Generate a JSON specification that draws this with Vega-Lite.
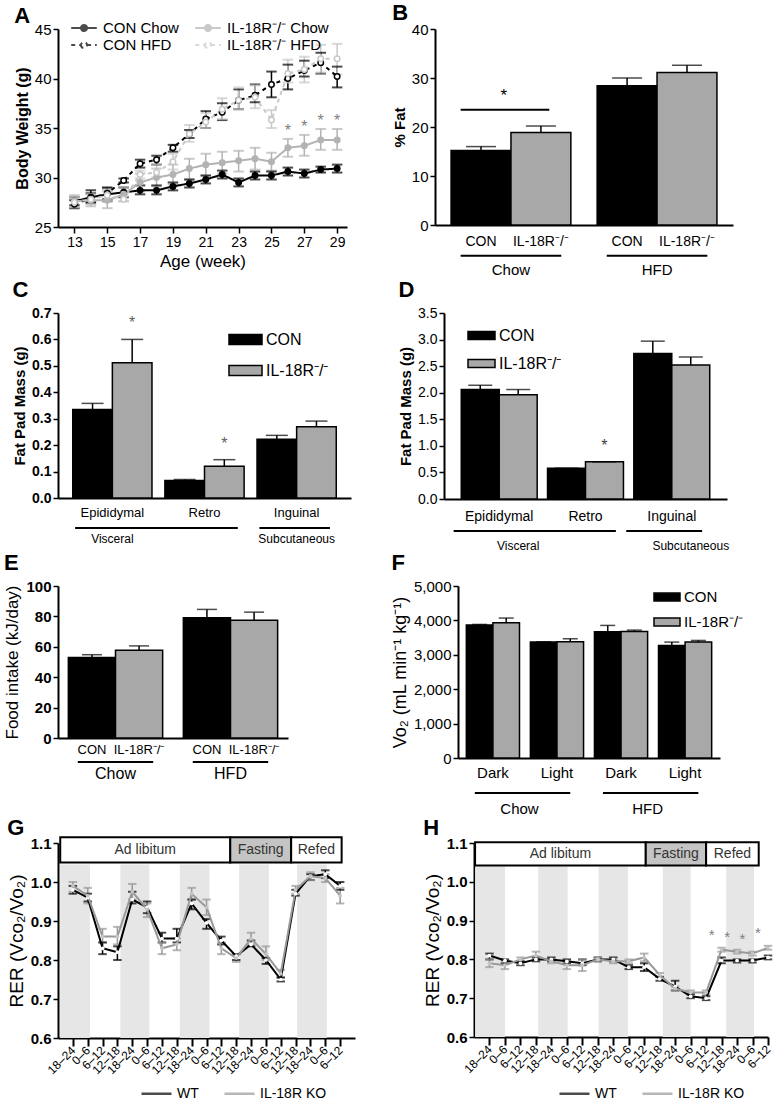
{
 "$schema": "https://vega.github.io/schema/vega-lite/v6.json",
 "padding": {"left": 3, "top": 2, "right": 2, "bottom": 2},
 "background": "white",
 "config": {
  "font": "Liberation Sans",
  "view": {"stroke": null},
  "axis": {"domainColor": "black", "domainWidth": 2, "tickColor": "black", "tickWidth": 1.5, "tickSize": 5, "labelColor": "black", "labelFontSize": 14, "titleColor": "black", "grid": false, "titlePadding": 4, "labelOverlap": false},
  "legend": {"labelColor": "black", "titleColor": "black"},
  "title": {"fontSize": 22, "fontWeight": "bold", "anchor": "start", "color": "black", "offset": 0},
  "text": {"color": "black"}
 },
 "datasets": {
  "bw": [
   {"week":13,"series":"CON Chow","bw":27.6,"lo":27.2,"hi":28.0},
   {"week":14,"series":"CON Chow","bw":28.0,"lo":27.5,"hi":28.7},
   {"week":15,"series":"CON Chow","bw":28.3,"lo":27.6,"hi":29.0},
   {"week":16,"series":"CON Chow","bw":28.5,"lo":28.0,"hi":29.0},
   {"week":17,"series":"CON Chow","bw":28.7,"lo":28.3,"hi":29.2},
   {"week":18,"series":"CON Chow","bw":28.7,"lo":28.3,"hi":29.2},
   {"week":19,"series":"CON Chow","bw":29.1,"lo":28.7,"hi":29.5},
   {"week":20,"series":"CON Chow","bw":29.4,"lo":29.0,"hi":29.8},
   {"week":21,"series":"CON Chow","bw":29.8,"lo":29.4,"hi":30.2},
   {"week":22,"series":"CON Chow","bw":30.3,"lo":29.9,"hi":30.7},
   {"week":23,"series":"CON Chow","bw":29.5,"lo":29.1,"hi":29.9},
   {"week":24,"series":"CON Chow","bw":30.2,"lo":29.8,"hi":30.6},
   {"week":25,"series":"CON Chow","bw":30.2,"lo":29.8,"hi":30.6},
   {"week":26,"series":"CON Chow","bw":30.6,"lo":30.2,"hi":31.0},
   {"week":27,"series":"CON Chow","bw":30.4,"lo":30.0,"hi":30.8},
   {"week":28,"series":"CON Chow","bw":30.8,"lo":30.5,"hi":31.1},
   {"week":29,"series":"CON Chow","bw":30.9,"lo":30.5,"hi":31.3},
   {"week":13,"series":"IL-18R⁻/⁻ Chow","bw":27.6,"lo":27.0,"hi":28.2},
   {"week":14,"series":"IL-18R⁻/⁻ Chow","bw":27.7,"lo":27.1,"hi":28.3},
   {"week":15,"series":"IL-18R⁻/⁻ Chow","bw":27.7,"lo":26.9,"hi":28.6},
   {"week":16,"series":"IL-18R⁻/⁻ Chow","bw":28.3,"lo":27.6,"hi":29.0},
   {"week":17,"series":"IL-18R⁻/⁻ Chow","bw":29.5,"lo":28.6,"hi":30.4},
   {"week":18,"series":"IL-18R⁻/⁻ Chow","bw":30.0,"lo":29.1,"hi":30.9},
   {"week":19,"series":"IL-18R⁻/⁻ Chow","bw":30.3,"lo":29.3,"hi":31.3},
   {"week":20,"series":"IL-18R⁻/⁻ Chow","bw":30.9,"lo":29.8,"hi":31.9},
   {"week":21,"series":"IL-18R⁻/⁻ Chow","bw":31.3,"lo":30.2,"hi":32.4},
   {"week":22,"series":"IL-18R⁻/⁻ Chow","bw":31.5,"lo":30.4,"hi":32.6},
   {"week":23,"series":"IL-18R⁻/⁻ Chow","bw":31.7,"lo":30.6,"hi":32.7},
   {"week":24,"series":"IL-18R⁻/⁻ Chow","bw":31.9,"lo":30.8,"hi":33.0},
   {"week":25,"series":"IL-18R⁻/⁻ Chow","bw":31.6,"lo":30.7,"hi":32.5},
   {"week":26,"series":"IL-18R⁻/⁻ Chow","bw":33.0,"lo":32.1,"hi":33.9,"sig":true},
   {"week":27,"series":"IL-18R⁻/⁻ Chow","bw":33.2,"lo":32.2,"hi":34.3,"sig":true},
   {"week":28,"series":"IL-18R⁻/⁻ Chow","bw":33.8,"lo":32.8,"hi":34.9,"sig":true},
   {"week":29,"series":"IL-18R⁻/⁻ Chow","bw":33.8,"lo":32.8,"hi":34.9,"sig":true},
   {"week":13,"series":"CON HFD","bw":27.3,"lo":26.9,"hi":27.7},
   {"week":14,"series":"CON HFD","bw":27.9,"lo":27.4,"hi":28.4},
   {"week":15,"series":"CON HFD","bw":28.4,"lo":27.8,"hi":28.9},
   {"week":16,"series":"CON HFD","bw":29.7,"lo":29.5,"hi":29.9},
   {"week":17,"series":"CON HFD","bw":31.4,"lo":31.0,"hi":31.8},
   {"week":18,"series":"CON HFD","bw":31.8,"lo":31.3,"hi":32.2},
   {"week":19,"series":"CON HFD","bw":33.0,"lo":32.6,"hi":33.3},
   {"week":20,"series":"CON HFD","bw":34.4,"lo":34.0,"hi":34.8},
   {"week":21,"series":"CON HFD","bw":35.9,"lo":35.0,"hi":36.7},
   {"week":22,"series":"CON HFD","bw":36.6,"lo":35.8,"hi":37.5},
   {"week":23,"series":"CON HFD","bw":37.8,"lo":36.9,"hi":38.9},
   {"week":24,"series":"CON HFD","bw":38.3,"lo":37.6,"hi":39.4},
   {"week":25,"series":"CON HFD","bw":39.4,"lo":38.1,"hi":40.7},
   {"week":26,"series":"CON HFD","bw":40.0,"lo":38.9,"hi":41.4},
   {"week":27,"series":"CON HFD","bw":40.8,"lo":40.2,"hi":41.8},
   {"week":28,"series":"CON HFD","bw":41.6,"lo":40.5,"hi":42.6},
   {"week":29,"series":"CON HFD","bw":40.2,"lo":39.1,"hi":41.2},
   {"week":13,"series":"IL-18R⁻/⁻ HFD","bw":27.5,"lo":27.0,"hi":28.0},
   {"week":14,"series":"IL-18R⁻/⁻ HFD","bw":27.8,"lo":27.3,"hi":28.3},
   {"week":15,"series":"IL-18R⁻/⁻ HFD","bw":28.2,"lo":27.6,"hi":28.8},
   {"week":16,"series":"IL-18R⁻/⁻ HFD","bw":27.8,"lo":27.6,"hi":28.1},
   {"week":17,"series":"IL-18R⁻/⁻ HFD","bw":30.3,"lo":29.9,"hi":30.7},
   {"week":18,"series":"IL-18R⁻/⁻ HFD","bw":30.5,"lo":30.0,"hi":31.3},
   {"week":19,"series":"IL-18R⁻/⁻ HFD","bw":31.6,"lo":30.8,"hi":32.4},
   {"week":20,"series":"IL-18R⁻/⁻ HFD","bw":34.4,"lo":33.6,"hi":35.3},
   {"week":21,"series":"IL-18R⁻/⁻ HFD","bw":35.6,"lo":35.0,"hi":36.5},
   {"week":22,"series":"IL-18R⁻/⁻ HFD","bw":36.9,"lo":35.9,"hi":38.0},
   {"week":23,"series":"IL-18R⁻/⁻ HFD","bw":37.8,"lo":36.9,"hi":39.1},
   {"week":24,"series":"IL-18R⁻/⁻ HFD","bw":38.1,"lo":37.0,"hi":39.3},
   {"week":25,"series":"IL-18R⁻/⁻ HFD","bw":35.8,"lo":35.0,"hi":36.8},
   {"week":26,"series":"IL-18R⁻/⁻ HFD","bw":40.5,"lo":39.6,"hi":41.9},
   {"week":27,"series":"IL-18R⁻/⁻ HFD","bw":40.9,"lo":39.6,"hi":42.2},
   {"week":28,"series":"IL-18R⁻/⁻ HFD","bw":42.0,"lo":40.6,"hi":43.4},
   {"week":29,"series":"IL-18R⁻/⁻ HFD","bw":42.0,"lo":40.4,"hi":43.5}
  ],
  "fat": [
   {"diet":"Chow","genotype":"CON","val":15.2,"hi":16.0},
   {"diet":"Chow","genotype":"IL-18R⁻/⁻","val":18.9,"hi":20.2},
   {"diet":"HFD","genotype":"CON","val":28.4,"hi":30.0},
   {"diet":"HFD","genotype":"IL-18R⁻/⁻","val":31.1,"hi":32.6}
  ],
  "diets": [{"diet":"Chow"},{"diet":"HFD"}],
  "sigB": [{"diet":"Chow"}],
  "padC": [
   {"depot":"Epididymal","genotype":"CON","mass":0.335,"hi":0.358},
   {"depot":"Epididymal","genotype":"IL-18R⁻/⁻","mass":0.512,"hi":0.600,"sig":true},
   {"depot":"Retro","genotype":"CON","mass":0.066,"hi":0.070},
   {"depot":"Retro","genotype":"IL-18R⁻/⁻","mass":0.120,"hi":0.145,"sig":true},
   {"depot":"Inguinal","genotype":"CON","mass":0.222,"hi":0.237},
   {"depot":"Inguinal","genotype":"IL-18R⁻/⁻","mass":0.270,"hi":0.291}
  ],
  "padD": [
   {"depot":"Epididymal","genotype":"CON","mass":2.06,"hi":2.14},
   {"depot":"Epididymal","genotype":"IL-18R⁻/⁻","mass":1.96,"hi":2.06},
   {"depot":"Retro","genotype":"CON","mass":0.58,"hi":0.58},
   {"depot":"Retro","genotype":"IL-18R⁻/⁻","mass":0.70,"hi":0.70,"sig":true},
   {"depot":"Inguinal","genotype":"CON","mass":2.74,"hi":2.97},
   {"depot":"Inguinal","genotype":"IL-18R⁻/⁻","mass":2.52,"hi":2.67}
  ],
  "regions": [
   {"region":"Visceral","from":"Epididymal","to":"Retro","at":"Epididymal"},
   {"region":"Subcutaneous","from":"Inguinal","to":"Inguinal","at":"Inguinal"}
  ],
  "food": [
   {"diet":"Chow","genotype":"CON","val":52.9,"hi":54.8},
   {"diet":"Chow","genotype":"IL-18R⁻/⁻","val":57.7,"hi":60.6},
   {"diet":"HFD","genotype":"CON","val":79.1,"hi":84.6},
   {"diet":"HFD","genotype":"IL-18R⁻/⁻","val":77.5,"hi":82.8}
  ],
  "vo2": [
   {"cond":"Chow Dark","genotype":"CON","vo2":3864,"hi":3883},
   {"cond":"Chow Dark","genotype":"IL-18R⁻/⁻","vo2":3932,"hi":4068},
   {"cond":"Chow Light","genotype":"CON","vo2":3369,"hi":3379},
   {"cond":"Chow Light","genotype":"IL-18R⁻/⁻","vo2":3379,"hi":3466},
   {"cond":"HFD Dark","genotype":"CON","vo2":3670,"hi":3854},
   {"cond":"HFD Dark","genotype":"IL-18R⁻/⁻","vo2":3680,"hi":3718},
   {"cond":"HFD Light","genotype":"CON","vo2":3272,"hi":3369},
   {"cond":"HFD Light","genotype":"IL-18R⁻/⁻","vo2":3369,"hi":3417}
  ],
  "vo2groups": [
   {"diet":"Chow","from":"Chow Dark","to":"Chow Light"},
   {"diet":"HFD","from":"HFD Dark","to":"HFD Light"}
  ],
  "darkG": [
   {"start":0.15,"end":2.15},{"start":4.2,"end":6.15},{"start":8.2,"end":10.2},{"start":12.2,"end":14.2},{"start":16.1,"end":18.1}
  ],
  "phaseG": [
   {"phase":"Ad libitum","start":0.15,"end":11.6},
   {"phase":"Fasting","start":11.6,"end":15.7},
   {"phase":"Refed","start":15.7,"end":19.1}
  ],
  "darkH": [
   {"start":0.07,"end":2.0},{"start":4.15,"end":6.05},{"start":8.05,"end":9.95},{"start":12.2,"end":14.0},{"start":16.3,"end":18.1}
  ],
  "phaseH": [
   {"phase":"Ad libitum","start":0.07,"end":11.1},
   {"phase":"Fasting","start":11.1,"end":15.0},
   {"phase":"Refed","start":15.0,"end":18.4}
  ],
  "rerG": [
   {"slot":1,"genotype":"WT","rer":0.98,"lo":0.97,"hi":0.99},
   {"slot":2,"genotype":"WT","rer":0.96,"lo":0.95,"hi":0.97},
   {"slot":3,"genotype":"WT","rer":0.83,"lo":0.815,"hi":0.845},
   {"slot":4,"genotype":"WT","rer":0.82,"lo":0.80,"hi":0.835},
   {"slot":5,"genotype":"WT","rer":0.955,"lo":0.945,"hi":0.975},
   {"slot":6,"genotype":"WT","rer":0.935,"lo":0.92,"hi":0.95},
   {"slot":7,"genotype":"WT","rer":0.855,"lo":0.845,"hi":0.87},
   {"slot":8,"genotype":"WT","rer":0.855,"lo":0.845,"hi":0.88},
   {"slot":9,"genotype":"WT","rer":0.945,"lo":0.93,"hi":0.955},
   {"slot":10,"genotype":"WT","rer":0.895,"lo":0.88,"hi":0.905},
   {"slot":11,"genotype":"WT","rer":0.85,"lo":0.84,"hi":0.86},
   {"slot":12,"genotype":"WT","rer":0.81,"lo":0.80,"hi":0.815},
   {"slot":13,"genotype":"WT","rer":0.84,"lo":0.835,"hi":0.85},
   {"slot":14,"genotype":"WT","rer":0.80,"lo":0.79,"hi":0.805},
   {"slot":15,"genotype":"WT","rer":0.75,"lo":0.745,"hi":0.755},
   {"slot":16,"genotype":"WT","rer":0.97,"lo":0.965,"hi":0.98},
   {"slot":17,"genotype":"WT","rer":1.015,"lo":1.005,"hi":1.02},
   {"slot":18,"genotype":"WT","rer":1.02,"lo":1.01,"hi":1.03},
   {"slot":19,"genotype":"WT","rer":0.99,"lo":0.98,"hi":1.0},
   {"slot":1,"genotype":"IL-18R KO","rer":0.99,"lo":0.975,"hi":1.0},
   {"slot":2,"genotype":"IL-18R KO","rer":0.965,"lo":0.945,"hi":0.985},
   {"slot":3,"genotype":"IL-18R KO","rer":0.86,"lo":0.845,"hi":0.88},
   {"slot":4,"genotype":"IL-18R KO","rer":0.86,"lo":0.84,"hi":0.885},
   {"slot":5,"genotype":"IL-18R KO","rer":0.975,"lo":0.955,"hi":0.995},
   {"slot":6,"genotype":"IL-18R KO","rer":0.93,"lo":0.91,"hi":0.945},
   {"slot":7,"genotype":"IL-18R KO","rer":0.83,"lo":0.815,"hi":0.845},
   {"slot":8,"genotype":"IL-18R KO","rer":0.84,"lo":0.825,"hi":0.855},
   {"slot":9,"genotype":"IL-18R KO","rer":0.97,"lo":0.955,"hi":0.985},
   {"slot":10,"genotype":"IL-18R KO","rer":0.935,"lo":0.915,"hi":0.955},
   {"slot":11,"genotype":"IL-18R KO","rer":0.83,"lo":0.815,"hi":0.845},
   {"slot":12,"genotype":"IL-18R KO","rer":0.805,"lo":0.795,"hi":0.815},
   {"slot":13,"genotype":"IL-18R KO","rer":0.855,"lo":0.84,"hi":0.87},
   {"slot":14,"genotype":"IL-18R KO","rer":0.815,"lo":0.80,"hi":0.835},
   {"slot":15,"genotype":"IL-18R KO","rer":0.765,"lo":0.755,"hi":0.775},
   {"slot":16,"genotype":"IL-18R KO","rer":0.98,"lo":0.97,"hi":0.99},
   {"slot":17,"genotype":"IL-18R KO","rer":1.015,"lo":1.005,"hi":1.025},
   {"slot":18,"genotype":"IL-18R KO","rer":1.01,"lo":1.0,"hi":1.02},
   {"slot":19,"genotype":"IL-18R KO","rer":0.965,"lo":0.945,"hi":0.985}
  ],
  "rerH": [
   {"slot":1,"genotype":"WT","rer":0.81,"lo":0.80,"hi":0.815},
   {"slot":2,"genotype":"WT","rer":0.797,"lo":0.79,"hi":0.80},
   {"slot":3,"genotype":"WT","rer":0.79,"lo":0.785,"hi":0.795},
   {"slot":4,"genotype":"WT","rer":0.80,"lo":0.795,"hi":0.805},
   {"slot":5,"genotype":"WT","rer":0.80,"lo":0.795,"hi":0.805},
   {"slot":6,"genotype":"WT","rer":0.795,"lo":0.79,"hi":0.80},
   {"slot":7,"genotype":"WT","rer":0.79,"lo":0.785,"hi":0.80},
   {"slot":8,"genotype":"WT","rer":0.80,"lo":0.795,"hi":0.805},
   {"slot":9,"genotype":"WT","rer":0.80,"lo":0.795,"hi":0.805},
   {"slot":10,"genotype":"WT","rer":0.78,"lo":0.775,"hi":0.785},
   {"slot":11,"genotype":"WT","rer":0.78,"lo":0.77,"hi":0.79},
   {"slot":12,"genotype":"WT","rer":0.75,"lo":0.745,"hi":0.755},
   {"slot":13,"genotype":"WT","rer":0.73,"lo":0.72,"hi":0.745},
   {"slot":14,"genotype":"WT","rer":0.705,"lo":0.70,"hi":0.71},
   {"slot":15,"genotype":"WT","rer":0.70,"lo":0.695,"hi":0.705},
   {"slot":16,"genotype":"WT","rer":0.797,"lo":0.79,"hi":0.805},
   {"slot":17,"genotype":"WT","rer":0.797,"lo":0.792,"hi":0.80},
   {"slot":18,"genotype":"WT","rer":0.797,"lo":0.792,"hi":0.80},
   {"slot":19,"genotype":"WT","rer":0.805,"lo":0.80,"hi":0.81},
   {"slot":1,"genotype":"IL-18R KO","rer":0.79,"lo":0.78,"hi":0.80},
   {"slot":2,"genotype":"IL-18R KO","rer":0.785,"lo":0.775,"hi":0.795},
   {"slot":3,"genotype":"IL-18R KO","rer":0.80,"lo":0.795,"hi":0.805},
   {"slot":4,"genotype":"IL-18R KO","rer":0.81,"lo":0.80,"hi":0.82},
   {"slot":5,"genotype":"IL-18R KO","rer":0.795,"lo":0.79,"hi":0.80},
   {"slot":6,"genotype":"IL-18R KO","rer":0.785,"lo":0.775,"hi":0.795},
   {"slot":7,"genotype":"IL-18R KO","rer":0.785,"lo":0.77,"hi":0.80},
   {"slot":8,"genotype":"IL-18R KO","rer":0.80,"lo":0.795,"hi":0.805},
   {"slot":9,"genotype":"IL-18R KO","rer":0.795,"lo":0.79,"hi":0.80},
   {"slot":10,"genotype":"IL-18R KO","rer":0.795,"lo":0.79,"hi":0.80},
   {"slot":11,"genotype":"IL-18R KO","rer":0.805,"lo":0.795,"hi":0.815},
   {"slot":12,"genotype":"IL-18R KO","rer":0.76,"lo":0.755,"hi":0.765},
   {"slot":13,"genotype":"IL-18R KO","rer":0.725,"lo":0.72,"hi":0.73},
   {"slot":14,"genotype":"IL-18R KO","rer":0.715,"lo":0.71,"hi":0.72},
   {"slot":15,"genotype":"IL-18R KO","rer":0.715,"lo":0.71,"hi":0.72},
   {"slot":16,"genotype":"IL-18R KO","rer":0.825,"lo":0.82,"hi":0.83,"sig":true},
   {"slot":17,"genotype":"IL-18R KO","rer":0.82,"lo":0.815,"hi":0.825,"sig":true},
   {"slot":18,"genotype":"IL-18R KO","rer":0.815,"lo":0.81,"hi":0.82,"sig":true},
   {"slot":19,"genotype":"IL-18R KO","rer":0.83,"lo":0.825,"hi":0.835,"sig":true}
  ]
 },
 "resolve": {"scale": {"color": "independent", "fill": "independent", "stroke": "independent", "strokeDash": "independent", "xOffset": "independent"}},
 "spacing": 0,
 "vconcat": [
  {"spacing": 45,
   "resolve": {"scale": {"color": "independent", "fill": "independent", "stroke": "independent", "strokeDash": "independent", "xOffset": "independent"}},
   "hconcat": [
   {
    "title": {"text": "A", "offset": -9},
    "width": 289, "height": 198,
    "data": {"name": "bw"},
    "layer": [
     {"mark": {"type": "rule", "strokeWidth": 1.5},
      "encoding": {
       "x": {"field": "week", "type": "quantitative", "scale": {"domain": [12, 29.6], "nice": false, "zero": false}, "axis": {"values": [13,15,17,19,21,23,25,27,29], "format": "d", "tickCount": 50, "labelOverlap": false, "title": "Age (week)", "titleFontSize": 17, "titleFontWeight": "normal", "labelFontSize": 14, "tickSize": 6}},
       "y": {"field": "lo", "type": "quantitative", "scale": {"domain": [25, 45], "nice": false, "zero": false}, "axis": {"values": [25,30,35,40,45], "format": "d", "tickCount": 50, "labelOverlap": false, "title": "Body Weight (g)", "titleFontSize": 16, "titleFontWeight": "bold", "labelFontSize": 15}},
       "y2": {"field": "hi"},
       "stroke": {"field": "series", "type": "nominal", "scale": {"domain": ["CON Chow","CON HFD","IL-18R⁻/⁻ Chow","IL-18R⁻/⁻ HFD"], "range": ["black","black","#b3b3b3","#c8c8c8"]}, "legend": {"orient": "none", "legendX": 17, "legendY": -10, "columns": 2, "title": null, "symbolType": "M-1.6,0H-0.38M0.38,0H1.6M-0.38,0A0.38,0.38 0 1,0 0.38,0A0.38,0.38 0 1,0 -0.38,0", "symbolSize": 256, "symbolStrokeWidth": 2, "labelFontSize": 15, "columnPadding": 12, "rowPadding": 0, "labelOffset": 10}}
      }},
     {"mark": {"type": "tick", "orient": "horizontal", "size": 9, "thickness": 0.5, "filled": false, "strokeWidth": 1.5},
      "encoding": {
       "x": {"field": "week", "type": "quantitative"},
       "y": {"field": "lo", "type": "quantitative"},
       "stroke": {"field": "series", "type": "nominal", "legend": {"orient": "none", "legendX": 17, "legendY": -10, "columns": 2, "title": null, "symbolType": "M-1.6,0H-0.38M0.38,0H1.6M-0.38,0A0.38,0.38 0 1,0 0.38,0A0.38,0.38 0 1,0 -0.38,0", "symbolSize": 256, "symbolStrokeWidth": 2, "labelFontSize": 15, "columnPadding": 12, "rowPadding": 0, "labelOffset": 10}}
      }},
     {"mark": {"type": "tick", "orient": "horizontal", "size": 9, "thickness": 0.5, "filled": false, "strokeWidth": 1.5},
      "encoding": {
       "x": {"field": "week", "type": "quantitative"},
       "y": {"field": "hi", "type": "quantitative"},
       "stroke": {"field": "series", "type": "nominal", "legend": {"orient": "none", "legendX": 17, "legendY": -10, "columns": 2, "title": null, "symbolType": "M-1.6,0H-0.38M0.38,0H1.6M-0.38,0A0.38,0.38 0 1,0 0.38,0A0.38,0.38 0 1,0 -0.38,0", "symbolSize": 256, "symbolStrokeWidth": 2, "labelFontSize": 15, "columnPadding": 12, "rowPadding": 0, "labelOffset": 10}}
      }},
     {"mark": {"type": "line", "strokeWidth": 2},
      "encoding": {
       "x": {"field": "week", "type": "quantitative"},
       "y": {"field": "bw", "type": "quantitative"},
       "stroke": {"field": "series", "type": "nominal", "legend": {"orient": "none", "legendX": 17, "legendY": -10, "columns": 2, "title": null, "symbolType": "M-1.6,0H-0.38M0.38,0H1.6M-0.38,0A0.38,0.38 0 1,0 0.38,0A0.38,0.38 0 1,0 -0.38,0", "symbolSize": 256, "symbolStrokeWidth": 2, "labelFontSize": 15, "columnPadding": 12, "rowPadding": 0, "labelOffset": 10}},
       "strokeDash": {"field": "series", "type": "nominal", "scale": {"domain": ["CON Chow","CON HFD","IL-18R⁻/⁻ Chow","IL-18R⁻/⁻ HFD"], "range": [[1,0],[4,4],[1,0],[4,4]]}, "legend": {"orient": "none", "legendX": 17, "legendY": -10, "columns": 2, "title": null, "symbolType": "M-1.6,0H-0.38M0.38,0H1.6M-0.38,0A0.38,0.38 0 1,0 0.38,0A0.38,0.38 0 1,0 -0.38,0", "symbolSize": 256, "symbolStrokeWidth": 2, "labelFontSize": 15, "columnPadding": 12, "rowPadding": 0, "labelOffset": 10}}
      }},
     {"mark": {"type": "point", "size": 30, "strokeWidth": 1.5, "opacity": 1},
      "encoding": {
       "x": {"field": "week", "type": "quantitative"},
       "y": {"field": "bw", "type": "quantitative"},
       "stroke": {"field": "series", "type": "nominal", "legend": {"orient": "none", "legendX": 17, "legendY": -10, "columns": 2, "title": null, "symbolType": "M-1.6,0H-0.38M0.38,0H1.6M-0.38,0A0.38,0.38 0 1,0 0.38,0A0.38,0.38 0 1,0 -0.38,0", "symbolSize": 256, "symbolStrokeWidth": 2, "labelFontSize": 15, "columnPadding": 12, "rowPadding": 0, "labelOffset": 10}},
       "fill": {"field": "series", "type": "nominal", "scale": {"domain": ["CON Chow","CON HFD","IL-18R⁻/⁻ Chow","IL-18R⁻/⁻ HFD"], "range": ["black","white","#b3b3b3","white"]}, "legend": {"orient": "none", "legendX": 17, "legendY": -10, "columns": 2, "title": null, "symbolType": "M-1.6,0H-0.38M0.38,0H1.6M-0.38,0A0.38,0.38 0 1,0 0.38,0A0.38,0.38 0 1,0 -0.38,0", "symbolSize": 256, "symbolStrokeWidth": 2, "labelFontSize": 15, "columnPadding": 12, "rowPadding": 0, "labelOffset": 10}}
      }},
     {"transform": [{"filter": "datum.sig"}],
      "mark": {"type": "text", "fontSize": 16, "color": "#808080", "baseline": "middle", "dy": -8},
      "encoding": {
       "x": {"field": "week", "type": "quantitative"},
       "y": {"field": "hi", "type": "quantitative"},
       "text": {"value": "*"}
      }}
    ]
   },
   {
    "title": {"text": "B", "offset": -3},
    "width": 298, "height": 196,
    "layer": [
     {"data": {"name": "fat"}, "mark": {"type": "bar", "stroke": "black", "strokeWidth": 1.5},
      "encoding": {
       "x": {"field": "diet", "type": "nominal", "scale": {"domain": ["Chow","HFD"], "paddingInner": 0.18, "paddingOuter": 0.11}, "axis": {"title": null, "labels": false, "ticks": false}},
       "xOffset": {"field": "genotype", "type": "nominal", "scale": {"domain": ["CON","IL-18R⁻/⁻"], "paddingInner": 0, "paddingOuter": 0}},
       "y": {"field": "val", "type": "quantitative", "scale": {"domain": [0, 40], "nice": false}, "axis": {"values": [0,10,20,30,40], "format": "d", "tickCount": 50, "labelOverlap": false, "title": "% Fat", "titleFontSize": 15, "titleFontWeight": "bold", "labelFontSize": 15}},
       "fill": {"field": "genotype", "type": "nominal", "scale": {"domain": ["CON","IL-18R⁻/⁻"], "range": ["black","#a8a8a8"]}, "legend": null}
      }},
     {"data": {"name": "fat"}, "mark": {"type": "rule", "color": "black", "strokeWidth": 1.5},
      "encoding": {
       "x": {"field": "diet", "type": "nominal"},
       "xOffset": {"field": "genotype", "type": "nominal"},
       "y": {"field": "val", "type": "quantitative"},
       "y2": {"field": "hi"}
      }},
     {"data": {"name": "fat"}, "mark": {"type": "tick", "orient": "horizontal", "color": "black", "thickness": 1.5, "size": 30},
      "encoding": {
       "x": {"field": "diet", "type": "nominal"},
       "xOffset": {"field": "genotype", "type": "nominal"},
       "y": {"field": "hi", "type": "quantitative"}
      }},
     {"data": {"name": "fat"}, "mark": {"type": "text", "fontSize": 14, "baseline": "middle"},
      "encoding": {
       "x": {"field": "diet", "type": "nominal"},
       "xOffset": {"field": "genotype", "type": "nominal"},
       "y": {"datum": -3.5},
       "text": {"field": "genotype"}
      }},
     {"data": {"name": "diets"}, "mark": {"type": "rule", "color": "black", "strokeWidth": 2},
      "encoding": {
       "x": {"field": "diet", "type": "nominal", "bandPosition": 0.08},
       "x2": {"field": "diet", "bandPosition": 0.92},
       "y": {"datum": -6.3}
      }},
     {"data": {"name": "diets"}, "mark": {"type": "text", "fontSize": 15, "baseline": "middle"},
      "encoding": {
       "x": {"field": "diet", "type": "nominal"},
       "y": {"datum": -9.2},
       "text": {"field": "diet"}
      }},
     {"data": {"name": "sigB"}, "mark": {"type": "rule", "color": "black", "strokeWidth": 2},
      "encoding": {
       "x": {"field": "diet", "type": "nominal", "bandPosition": 0.08},
       "x2": {"field": "diet", "bandPosition": 0.82},
       "y": {"datum": 23.5}
      }},
     {"data": {"name": "sigB"}, "mark": {"type": "text", "fontSize": 17, "baseline": "middle"},
      "encoding": {
       "x": {"field": "diet", "type": "nominal", "bandPosition": 0.44},
       "y": {"datum": 26.3},
       "text": {"value": "*"}
      }}
    ]
   }
  ]},
  {"spacing": 47,
   "resolve": {"scale": {"color": "independent", "fill": "independent", "stroke": "independent", "strokeDash": "independent", "xOffset": "independent"}},
   "hconcat": [
   {
    "title": {"text": "C", "offset": 4},
    "width": 293, "height": 185,
    "layer": [
     {"data": {"name": "padC"}, "mark": {"type": "bar", "stroke": "black", "strokeWidth": 1.5},
      "encoding": {
       "x": {"field": "depot", "type": "nominal", "scale": {"domain": ["Epididymal","Retro","Inguinal"], "paddingInner": 0.14, "paddingOuter": 0.16}, "axis": {"title": null, "ticks": false, "labelAngle": 0, "labelFontSize": 13, "labelPadding": 8}},
       "xOffset": {"field": "genotype", "type": "nominal", "scale": {"domain": ["CON","IL-18R⁻/⁻"], "paddingInner": 0, "paddingOuter": 0}},
       "y": {"field": "mass", "type": "quantitative", "scale": {"domain": [0, 0.7], "nice": false}, "axis": {"values": [0,0.1,0.2,0.3,0.4,0.5,0.6,0.7], "tickCount": 50, "labelOverlap": false, "format": ".1f", "title": "Fat Pad Mass (g)", "titleFontSize": 15, "titleFontWeight": "bold", "labelFontSize": 14, "labelFontWeight": "bold"}},
       "fill": {"field": "genotype", "type": "nominal", "scale": {"domain": ["CON","IL-18R⁻/⁻"], "range": ["black","#a8a8a8"]}, "legend": {"orient": "none", "legendX": 170, "legendY": 9, "title": null, "symbolType": "M-1,-0.3H1V0.3H-1Z", "symbolSize": 1089, "symbolStrokeColor": "black", "symbolStrokeWidth": 1.5, "labelFontSize": 16, "rowPadding": 5, "labelOffset": 3}}
      }},
     {"data": {"name": "padC"}, "mark": {"type": "rule", "color": "black", "strokeWidth": 1.5},
      "encoding": {
       "x": {"field": "depot", "type": "nominal"},
       "xOffset": {"field": "genotype", "type": "nominal"},
       "y": {"field": "mass", "type": "quantitative"},
       "y2": {"field": "hi"}
      }},
     {"data": {"name": "padC"}, "mark": {"type": "tick", "orient": "horizontal", "color": "black", "thickness": 1.5, "size": 22},
      "encoding": {
       "x": {"field": "depot", "type": "nominal"},
       "xOffset": {"field": "genotype", "type": "nominal"},
       "y": {"field": "hi", "type": "quantitative"}
      }},
     {"data": {"name": "padC"}, "transform": [{"filter": "datum.sig"}], "mark": {"type": "text", "fontSize": 16, "color": "#606060", "baseline": "middle", "dy": -16},
      "encoding": {
       "x": {"field": "depot", "type": "nominal"},
       "xOffset": {"field": "genotype", "type": "nominal"},
       "y": {"field": "hi", "type": "quantitative"},
       "text": {"value": "*"}
      }},
     {"data": {"name": "regions"}, "mark": {"type": "rule", "color": "black", "strokeWidth": 2},
      "encoding": {
       "x": {"field": "from", "type": "nominal", "bandPosition": 0.03},
       "x2": {"field": "to", "bandPosition": 0.92},
       "y": {"datum": -0.1135}
      }},
     {"data": {"name": "regions"}, "mark": {"type": "text", "fontSize": 12, "baseline": "middle"},
      "encoding": {
       "x": {"field": "at", "type": "nominal"},
       "y": {"datum": -0.157},
       "text": {"field": "region"}
      }}
    ]
   },
   {
    "title": {"text": "D", "offset": 4},
    "width": 283, "height": 186,
    "layer": [
     {"data": {"name": "padD"}, "mark": {"type": "bar", "stroke": "black", "strokeWidth": 1.5},
      "encoding": {
       "x": {"field": "depot", "type": "nominal", "scale": {"domain": ["Epididymal","Retro","Inguinal"], "paddingInner": 0.12, "paddingOuter": 0.2}, "axis": {"title": null, "ticks": false, "labelAngle": 0, "labelFontSize": 14, "labelPadding": 10}},
       "xOffset": {"field": "genotype", "type": "nominal", "scale": {"domain": ["CON","IL-18R⁻/⁻"], "paddingInner": 0, "paddingOuter": 0}},
       "y": {"field": "mass", "type": "quantitative", "scale": {"domain": [0, 3.5], "nice": false}, "axis": {"values": [0,0.5,1,1.5,2,2.5,3,3.5], "tickCount": 50, "labelOverlap": false, "format": ".1f", "title": "Fat Pad Mass (g)", "titleFontSize": 15, "titleFontWeight": "bold", "labelFontSize": 14}},
       "fill": {"field": "genotype", "type": "nominal", "scale": {"domain": ["CON","IL-18R⁻/⁻"], "range": ["black","#a8a8a8"]}, "legend": {"orient": "none", "legendX": 23, "legendY": 8, "title": null, "symbolType": "M-1,-0.3H1V0.3H-1Z", "symbolSize": 729, "symbolStrokeColor": "black", "symbolStrokeWidth": 1.5, "labelFontSize": 16, "rowPadding": 5, "labelOffset": 3}}
      }},
     {"data": {"name": "padD"}, "mark": {"type": "rule", "color": "black", "strokeWidth": 1.5},
      "encoding": {
       "x": {"field": "depot", "type": "nominal"},
       "xOffset": {"field": "genotype", "type": "nominal"},
       "y": {"field": "mass", "type": "quantitative"},
       "y2": {"field": "hi"}
      }},
     {"data": {"name": "padD"}, "mark": {"type": "tick", "orient": "horizontal", "color": "black", "thickness": 1.5, "size": 24},
      "encoding": {
       "x": {"field": "depot", "type": "nominal"},
       "xOffset": {"field": "genotype", "type": "nominal"},
       "y": {"field": "hi", "type": "quantitative"}
      }},
     {"data": {"name": "padD"}, "transform": [{"filter": "datum.sig"}], "mark": {"type": "text", "fontSize": 16, "color": "#404040", "baseline": "middle", "dy": -16},
      "encoding": {
       "x": {"field": "depot", "type": "nominal"},
       "xOffset": {"field": "genotype", "type": "nominal"},
       "y": {"field": "hi", "type": "quantitative"},
       "text": {"value": "*"}
      }},
     {"data": {"name": "regions"}, "mark": {"type": "rule", "color": "black", "strokeWidth": 2},
      "encoding": {
       "x": {"field": "from", "type": "nominal", "bandPosition": -0.1},
       "x2": {"field": "to", "bandPosition": 0.9},
       "y": {"datum": -0.6}
      }},
     {"data": {"name": "regions"}, "mark": {"type": "text", "fontSize": 12, "baseline": "middle"},
      "encoding": {
       "x": {"field": "at", "type": "nominal", "bandPosition": 0.75},
       "y": {"datum": -0.88},
       "text": {"field": "region"}
      }}
    ]
   }
  ]},
  {"spacing": 103,
   "resolve": {"scale": {"color": "independent", "fill": "independent", "stroke": "independent", "strokeDash": "independent", "xOffset": "independent"}},
   "hconcat": [
   {
    "title": {"text": "E", "offset": 4},
    "width": 230, "height": 152,
    "layer": [
     {"data": {"name": "food"}, "mark": {"type": "bar", "stroke": "black", "strokeWidth": 1.5},
      "encoding": {
       "x": {"field": "diet", "type": "nominal", "scale": {"domain": ["Chow","HFD"], "paddingInner": 0.18, "paddingOuter": 0.09}, "axis": {"title": null, "labels": false, "ticks": false}},
       "xOffset": {"field": "genotype", "type": "nominal", "scale": {"domain": ["CON","IL-18R⁻/⁻"], "paddingInner": 0, "paddingOuter": 0}},
       "y": {"field": "val", "type": "quantitative", "scale": {"domain": [0, 100], "nice": false}, "axis": {"values": [0,20,40,60,80,100], "format": "d", "tickCount": 50, "labelOverlap": false, "title": "Food intake (kJ/day)", "titleFontSize": 17, "titleFontWeight": "normal", "labelFontSize": 15, "labelFontWeight": "bold"}},
       "fill": {"field": "genotype", "type": "nominal", "scale": {"domain": ["CON","IL-18R⁻/⁻"], "range": ["black","#a8a8a8"]}, "legend": null}
      }},
     {"data": {"name": "food"}, "mark": {"type": "rule", "color": "black", "strokeWidth": 1.5},
      "encoding": {
       "x": {"field": "diet", "type": "nominal"},
       "xOffset": {"field": "genotype", "type": "nominal"},
       "y": {"field": "val", "type": "quantitative"},
       "y2": {"field": "hi"}
      }},
     {"data": {"name": "food"}, "mark": {"type": "tick", "orient": "horizontal", "color": "black", "thickness": 1.5, "size": 20},
      "encoding": {
       "x": {"field": "diet", "type": "nominal"},
       "xOffset": {"field": "genotype", "type": "nominal"},
       "y": {"field": "hi", "type": "quantitative"}
      }},
     {"data": {"name": "food"}, "mark": {"type": "text", "fontSize": 13, "baseline": "middle"},
      "encoding": {
       "x": {"field": "diet", "type": "nominal"},
       "xOffset": {"field": "genotype", "type": "nominal"},
       "y": {"datum": -7.9},
       "text": {"field": "genotype"}
      }},
     {"data": {"name": "diets"}, "mark": {"type": "rule", "color": "black", "strokeWidth": 2},
      "encoding": {
       "x": {"field": "diet", "type": "nominal", "bandPosition": 0.1},
       "x2": {"field": "diet", "bandPosition": 0.9},
       "y": {"datum": -15.8}
      }},
     {"data": {"name": "diets"}, "mark": {"type": "text", "fontSize": 16, "baseline": "middle"},
      "encoding": {
       "x": {"field": "diet", "type": "nominal"},
       "y": {"datum": -23.7},
       "text": {"field": "diet"}
      }}
    ]
   },
   {
    "title": {"text": "F", "offset": 4},
    "width": 262, "height": 172,
    "layer": [
     {"data": {"name": "vo2"}, "mark": {"type": "bar", "stroke": "black", "strokeWidth": 1.5},
      "encoding": {
       "x": {"field": "cond", "type": "nominal", "scale": {"domain": ["Chow Dark","Chow Light","HFD Dark","HFD Light"], "paddingInner": 0.17, "paddingOuter": 0.13}, "axis": {"title": null, "ticks": false, "labelAngle": 0, "labelFontSize": 15, "labelPadding": 7, "labelExpr": "split(datum.label, ' ')[1]"}},
       "xOffset": {"field": "genotype", "type": "nominal", "scale": {"domain": ["CON","IL-18R⁻/⁻"], "paddingInner": 0, "paddingOuter": 0}},
       "y": {"field": "vo2", "type": "quantitative", "scale": {"domain": [0, 5000], "nice": false}, "axis": {"values": [0,1000,2000,3000,4000,5000], "tickCount": 50, "labelOverlap": false, "format": ",.0f", "title": "Vo₂ (mL min⁻¹ kg⁻¹)", "titleFontSize": 18, "titleFontWeight": "normal", "labelFontSize": 15}},
       "fill": {"field": "genotype", "type": "nominal", "scale": {"domain": ["CON","IL-18R⁻/⁻"], "range": ["black","#a8a8a8"]}, "legend": {"orient": "none", "legendX": 195, "legendY": -3, "title": null, "symbolType": "M-1,-0.3H1V0.3H-1Z", "symbolSize": 676, "symbolStrokeColor": "black", "symbolStrokeWidth": 1.5, "labelFontSize": 15, "rowPadding": 3, "labelOffset": 3}}
      }},
     {"data": {"name": "vo2"}, "mark": {"type": "rule", "color": "black", "strokeWidth": 1.5},
      "encoding": {
       "x": {"field": "cond", "type": "nominal"},
       "xOffset": {"field": "genotype", "type": "nominal"},
       "y": {"field": "vo2", "type": "quantitative"},
       "y2": {"field": "hi"}
      }},
     {"data": {"name": "vo2"}, "mark": {"type": "tick", "orient": "horizontal", "color": "black", "thickness": 1.5, "size": 15},
      "encoding": {
       "x": {"field": "cond", "type": "nominal"},
       "xOffset": {"field": "genotype", "type": "nominal"},
       "y": {"field": "hi", "type": "quantitative"}
      }},
     {"data": {"name": "vo2groups"}, "mark": {"type": "rule", "color": "black", "strokeWidth": 2},
      "encoding": {
       "x": {"field": "from", "type": "nominal", "bandPosition": 0.16},
       "x2": {"field": "to", "bandPosition": 0.75},
       "y": {"datum": -1017}
      }},
     {"data": {"name": "vo2groups"}, "mark": {"type": "text", "fontSize": 15, "baseline": "middle"},
      "encoding": {
       "x": {"field": "from", "type": "nominal", "bandPosition": 1.0},
       "y": {"datum": -1470},
       "text": {"field": "diet"}
      }}
    ]
   }
  ]},
  {"spacing": 68,
   "resolve": {"scale": {"color": "independent", "fill": "independent", "stroke": "independent", "strokeDash": "independent", "xOffset": "independent"}},
   "hconcat": [
   {
    "title": {"text": "G", "offset": -4},
    "width": 297, "height": 195,
    "layer": [
     {"data": {"name": "darkG"}, "mark": {"type": "rect", "fill": "#e6e6e6"},
      "encoding": {
       "x": {"field": "start", "type": "quantitative", "scale": {"domain": [0, 20], "nice": false, "zero": false}, "axis": {"values": [1,2,3,4,5,6,7,8,9,10,11,12,13,14,15,16,17,18,19], "tickCount": 50, "labelOverlap": false, "labelExpr": "['18–24','0–6','6–12','12–18'][(datum.value - 1) % 4]", "labelAngle": -45, "labelAlign": "right", "labelBaseline": "middle", "labelFontSize": 12, "tickSize": 8, "tickWidth": 2, "title": null, "labelPadding": 2}},
       "x2": {"field": "end"},
       "y": {"datum": 0.6, "type": "quantitative", "scale": {"domain": [0.6, 1.1], "nice": false, "zero": false}, "axis": {"values": [0.6,0.7,0.8,0.9,1.0,1.1], "tickCount": 50, "labelOverlap": false, "format": ".1f", "title": "RER (Vco₂/Vo₂)", "titleFontSize": 19, "titleFontWeight": "normal", "labelFontSize": 15, "labelFontWeight": "bold"}},
       "y2": {"datum": 1.045}
      }},
     {"data": {"name": "phaseG"}, "mark": {"type": "rect", "stroke": "black", "strokeWidth": 2},
      "encoding": {
       "x": {"field": "start", "type": "quantitative"},
       "x2": {"field": "end"},
       "y": {"datum": 1.05},
       "y2": {"datum": 1.115},
       "fill": {"field": "phase", "type": "nominal", "scale": {"domain": ["Ad libitum","Fasting","Refed"], "range": ["white","#c4c4c4","white"]}, "legend": null}
      }},
     {"data": {"name": "phaseG"}, "transform": [{"fold": ["start","end"]}], "mark": {"type": "text", "fontSize": 14, "color": "#333333", "baseline": "middle"},
      "encoding": {
       "x": {"aggregate": "mean", "field": "value", "type": "quantitative"},
       "y": {"datum": 1.083},
       "text": {"field": "phase", "type": "nominal"}
      }},
     {"data": {"name": "rerG"}, "mark": {"type": "rule", "strokeWidth": 1.5},
      "encoding": {
       "x": {"field": "slot", "type": "quantitative"},
       "y": {"field": "lo", "type": "quantitative"},
       "y2": {"field": "hi"},
       "stroke": {"field": "genotype", "type": "nominal", "scale": {"domain": ["WT","IL-18R KO"], "range": ["black","#999999"]}, "legend": {"orient": "none", "legendX": 82, "legendY": 234, "direction": "horizontal", "title": null, "symbolType": "stroke", "symbolStrokeWidth": 2.5, "symbolSize": 900, "labelFontSize": 14, "columnPadding": 20}}
      }},
     {"data": {"name": "rerG"}, "mark": {"type": "tick", "orient": "horizontal", "size": 7, "thickness": 0.5, "filled": false, "strokeWidth": 1.5},
      "encoding": {
       "x": {"field": "slot", "type": "quantitative"},
       "y": {"field": "lo", "type": "quantitative"},
       "stroke": {"field": "genotype", "type": "nominal", "legend": {"orient": "none", "legendX": 82, "legendY": 234, "direction": "horizontal", "title": null, "symbolType": "stroke", "symbolStrokeWidth": 2.5, "symbolSize": 900, "labelFontSize": 14, "columnPadding": 20}}
      }},
     {"data": {"name": "rerG"}, "mark": {"type": "tick", "orient": "horizontal", "size": 7, "thickness": 0.5, "filled": false, "strokeWidth": 1.5},
      "encoding": {
       "x": {"field": "slot", "type": "quantitative"},
       "y": {"field": "hi", "type": "quantitative"},
       "stroke": {"field": "genotype", "type": "nominal", "legend": {"orient": "none", "legendX": 82, "legendY": 234, "direction": "horizontal", "title": null, "symbolType": "stroke", "symbolStrokeWidth": 2.5, "symbolSize": 900, "labelFontSize": 14, "columnPadding": 20}}
      }},
     {"data": {"name": "rerG"}, "mark": {"type": "line", "strokeWidth": 2},
      "encoding": {
       "x": {"field": "slot", "type": "quantitative"},
       "y": {"field": "rer", "type": "quantitative"},
       "stroke": {"field": "genotype", "type": "nominal", "legend": {"orient": "none", "legendX": 82, "legendY": 234, "direction": "horizontal", "title": null, "symbolType": "stroke", "symbolStrokeWidth": 2.5, "symbolSize": 900, "labelFontSize": 14, "columnPadding": 20}}
      }},
     {"data": {"name": "rerG"}, "mark": {"type": "point", "filled": true, "size": 14, "opacity": 1},
      "encoding": {
       "x": {"field": "slot", "type": "quantitative"},
       "y": {"field": "rer", "type": "quantitative"},
       "fill": {"field": "genotype", "type": "nominal", "scale": {"domain": ["WT","IL-18R KO"], "range": ["black","#999999"]}, "legend": {"orient": "none", "legendX": 82, "legendY": 234, "direction": "horizontal", "title": null, "symbolType": "stroke", "symbolStrokeWidth": 2.5, "symbolSize": 900, "labelFontSize": 14, "columnPadding": 20}}
      }}
    ]
   },
   {
    "title": {"text": "H", "offset": -4},
    "width": 294, "height": 194,
    "layer": [
     {"data": {"name": "darkH"}, "mark": {"type": "rect", "fill": "#e6e6e6"},
      "encoding": {
       "x": {"field": "start", "type": "quantitative", "scale": {"domain": [0, 19], "nice": false, "zero": false}, "axis": {"values": [1,2,3,4,5,6,7,8,9,10,11,12,13,14,15,16,17,18,19], "tickCount": 50, "labelOverlap": false, "labelExpr": "['18–24','0–6','6–12','12–18'][(datum.value - 1) % 4]", "labelAngle": -45, "labelAlign": "right", "labelBaseline": "middle", "labelFontSize": 12, "tickSize": 8, "tickWidth": 2, "title": null, "labelPadding": 2}},
       "x2": {"field": "end"},
       "y": {"datum": 0.6, "type": "quantitative", "scale": {"domain": [0.6, 1.1], "nice": false, "zero": false}, "axis": {"values": [0.6,0.7,0.8,0.9,1.0,1.1], "tickCount": 50, "labelOverlap": false, "format": ".1f", "title": "RER (Vco₂/Vo₂)", "titleFontSize": 19, "titleFontWeight": "normal", "labelFontSize": 15, "labelFontWeight": "bold"}},
       "y2": {"datum": 1.04}
      }},
     {"data": {"name": "phaseH"}, "mark": {"type": "rect", "stroke": "black", "strokeWidth": 2},
      "encoding": {
       "x": {"field": "start", "type": "quantitative"},
       "x2": {"field": "end"},
       "y": {"datum": 1.042},
       "y2": {"datum": 1.102},
       "fill": {"field": "phase", "type": "nominal", "scale": {"domain": ["Ad libitum","Fasting","Refed"], "range": ["white","#c4c4c4","white"]}, "legend": null}
      }},
     {"data": {"name": "phaseH"}, "transform": [{"fold": ["start","end"]}], "mark": {"type": "text", "fontSize": 14, "color": "#333333", "baseline": "middle"},
      "encoding": {
       "x": {"aggregate": "mean", "field": "value", "type": "quantitative"},
       "y": {"datum": 1.072},
       "text": {"field": "phase", "type": "nominal"}
      }},
     {"data": {"name": "rerH"}, "mark": {"type": "rule", "strokeWidth": 1.5},
      "encoding": {
       "x": {"field": "slot", "type": "quantitative"},
       "y": {"field": "lo", "type": "quantitative"},
       "y2": {"field": "hi"},
       "stroke": {"field": "genotype", "type": "nominal", "scale": {"domain": ["WT","IL-18R KO"], "range": ["black","#999999"]}, "legend": {"orient": "none", "legendX": 84, "legendY": 234, "direction": "horizontal", "title": null, "symbolType": "stroke", "symbolStrokeWidth": 2.5, "symbolSize": 900, "labelFontSize": 14, "columnPadding": 20}}
      }},
     {"data": {"name": "rerH"}, "mark": {"type": "tick", "orient": "horizontal", "size": 7, "thickness": 0.5, "filled": false, "strokeWidth": 1.5},
      "encoding": {
       "x": {"field": "slot", "type": "quantitative"},
       "y": {"field": "lo", "type": "quantitative"},
       "stroke": {"field": "genotype", "type": "nominal", "legend": {"orient": "none", "legendX": 84, "legendY": 234, "direction": "horizontal", "title": null, "symbolType": "stroke", "symbolStrokeWidth": 2.5, "symbolSize": 900, "labelFontSize": 14, "columnPadding": 20}}
      }},
     {"data": {"name": "rerH"}, "mark": {"type": "tick", "orient": "horizontal", "size": 7, "thickness": 0.5, "filled": false, "strokeWidth": 1.5},
      "encoding": {
       "x": {"field": "slot", "type": "quantitative"},
       "y": {"field": "hi", "type": "quantitative"},
       "stroke": {"field": "genotype", "type": "nominal", "legend": {"orient": "none", "legendX": 84, "legendY": 234, "direction": "horizontal", "title": null, "symbolType": "stroke", "symbolStrokeWidth": 2.5, "symbolSize": 900, "labelFontSize": 14, "columnPadding": 20}}
      }},
     {"data": {"name": "rerH"}, "mark": {"type": "line", "strokeWidth": 2},
      "encoding": {
       "x": {"field": "slot", "type": "quantitative"},
       "y": {"field": "rer", "type": "quantitative"},
       "stroke": {"field": "genotype", "type": "nominal", "legend": {"orient": "none", "legendX": 84, "legendY": 234, "direction": "horizontal", "title": null, "symbolType": "stroke", "symbolStrokeWidth": 2.5, "symbolSize": 900, "labelFontSize": 14, "columnPadding": 20}}
      }},
     {"data": {"name": "rerH"}, "mark": {"type": "point", "filled": true, "size": 14, "opacity": 1},
      "encoding": {
       "x": {"field": "slot", "type": "quantitative"},
       "y": {"field": "rer", "type": "quantitative"},
       "fill": {"field": "genotype", "type": "nominal", "scale": {"domain": ["WT","IL-18R KO"], "range": ["black","#999999"]}, "legend": {"orient": "none", "legendX": 84, "legendY": 234, "direction": "horizontal", "title": null, "symbolType": "stroke", "symbolStrokeWidth": 2.5, "symbolSize": 900, "labelFontSize": 14, "columnPadding": 20}}
      }},
     {"data": {"name": "rerH"}, "transform": [{"filter": "datum.sig"}], "mark": {"type": "text", "fontSize": 15, "color": "#808080", "baseline": "middle", "dx": -10, "dy": -13},
      "encoding": {
       "x": {"field": "slot", "type": "quantitative"},
       "y": {"field": "hi", "type": "quantitative"},
       "text": {"value": "*"}
      }}
    ]
   }
  ]}
 ]
}
